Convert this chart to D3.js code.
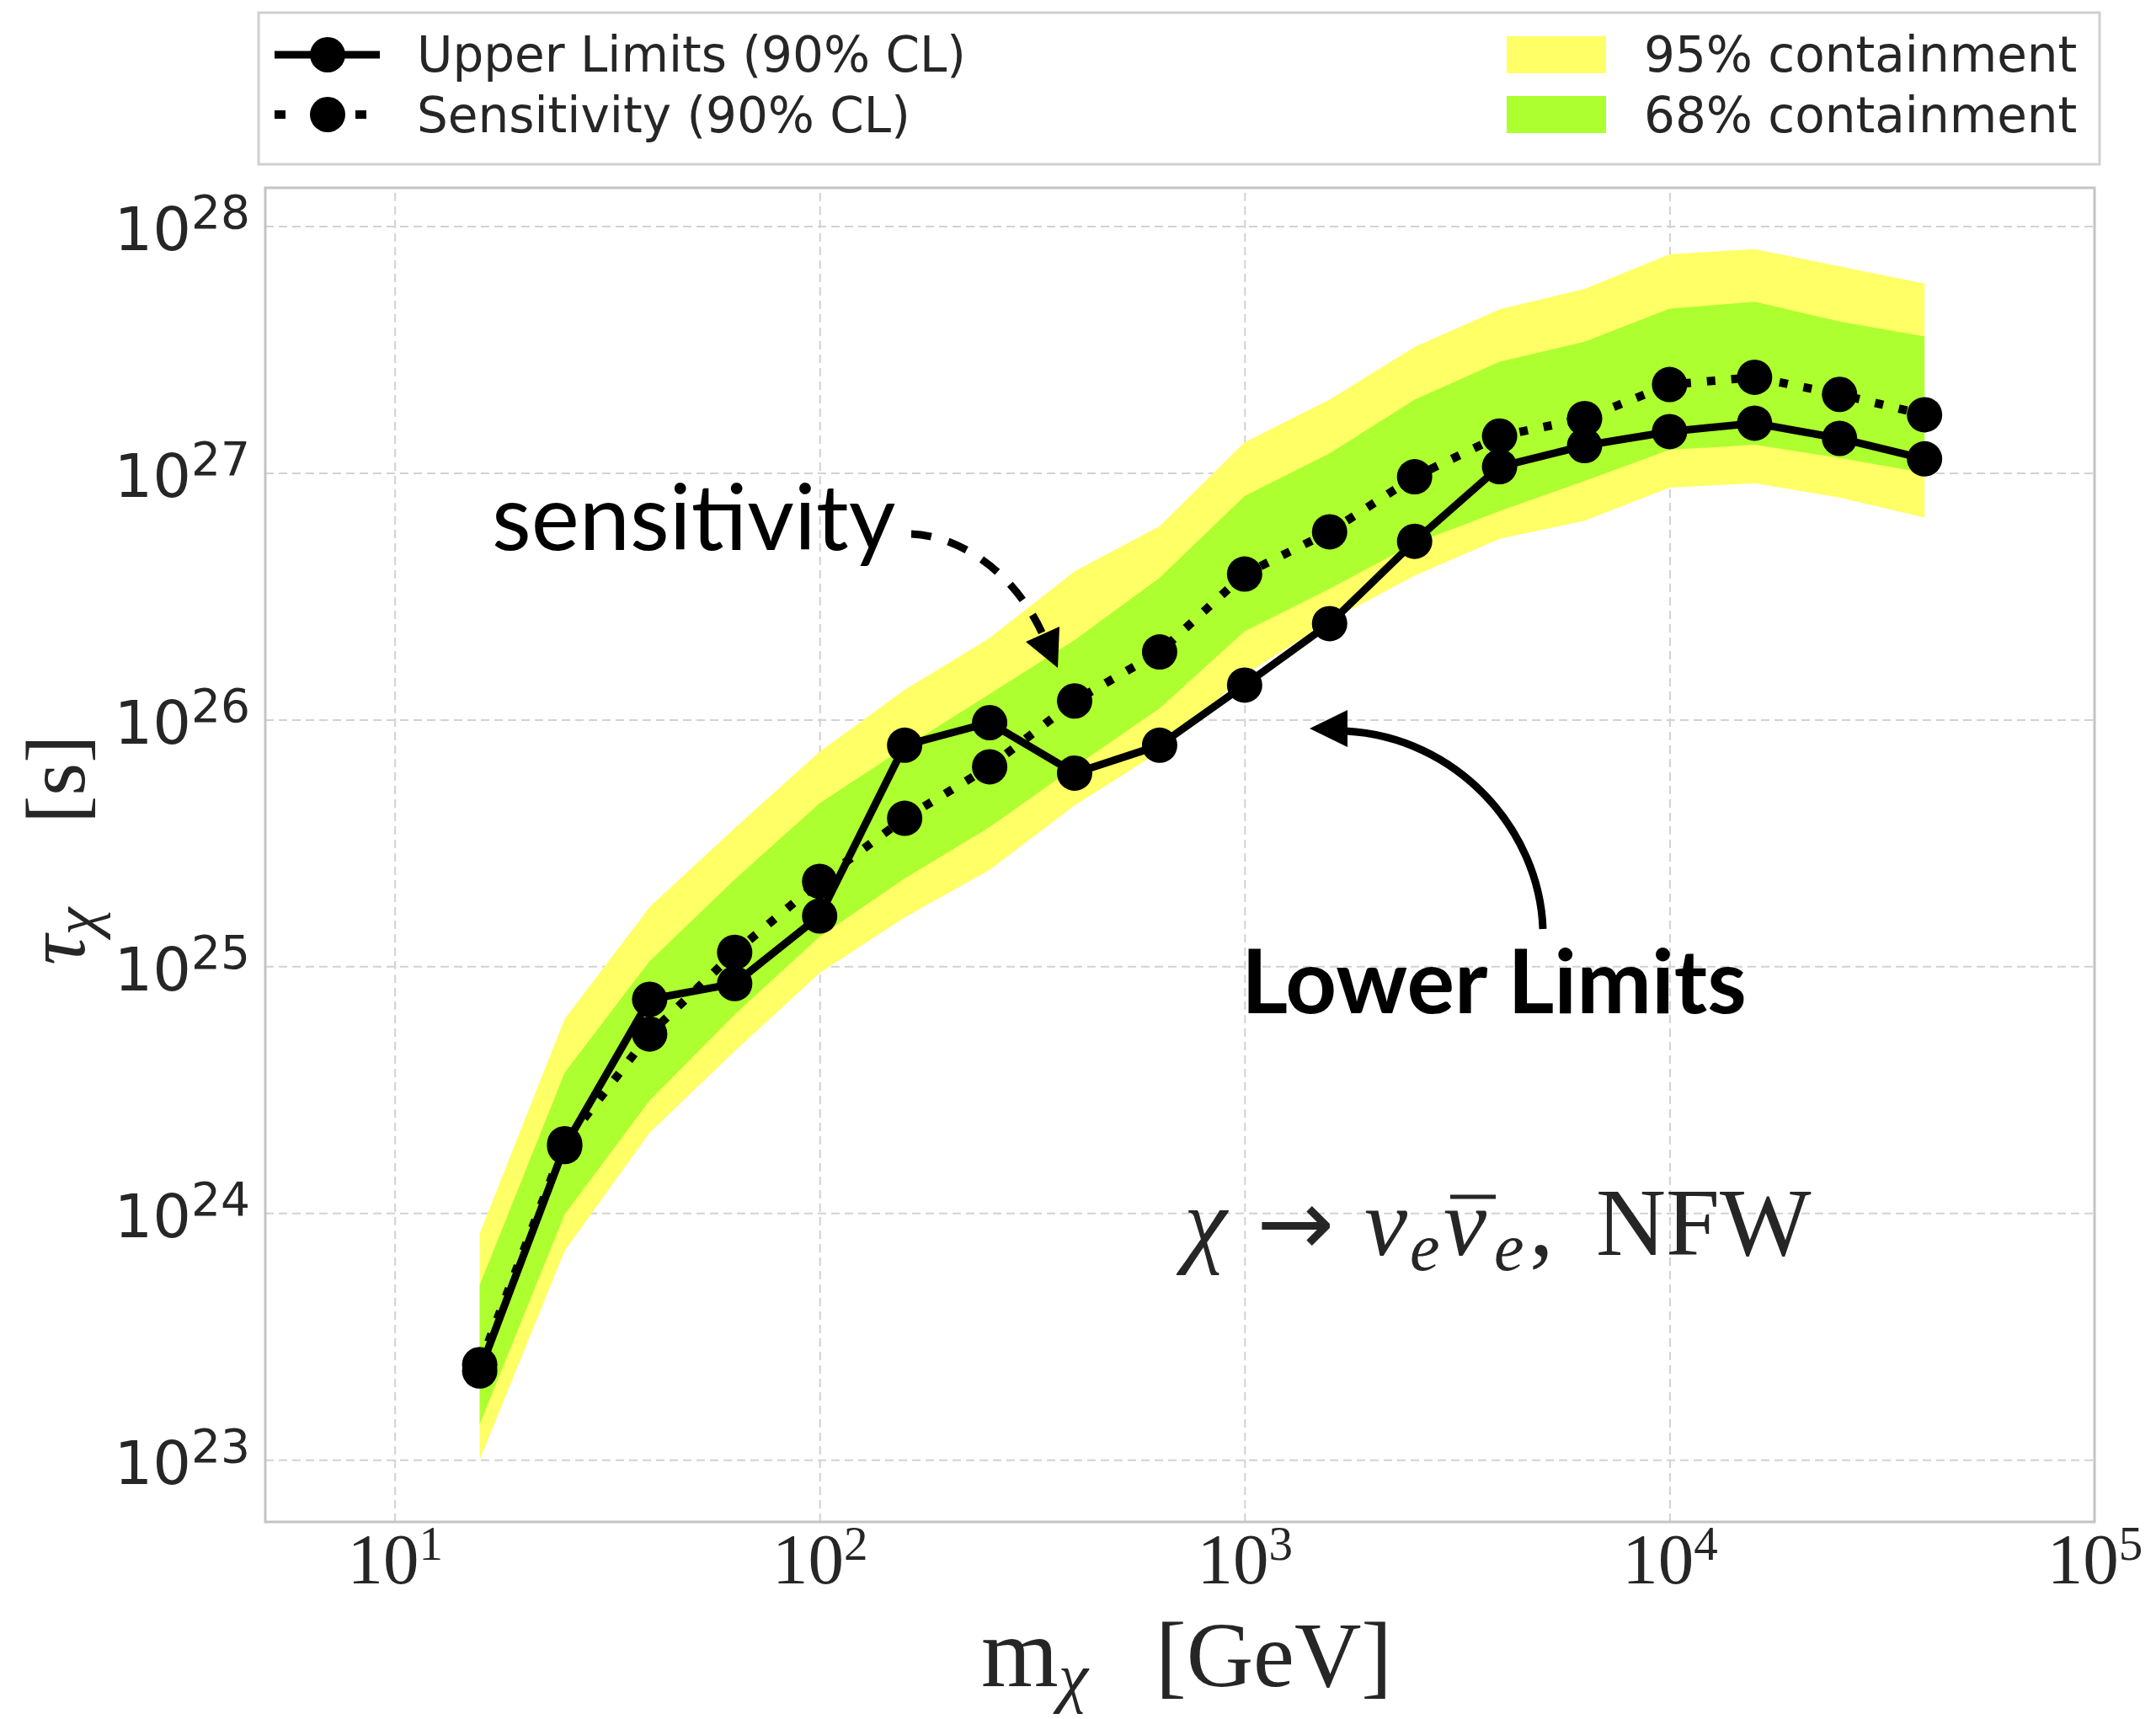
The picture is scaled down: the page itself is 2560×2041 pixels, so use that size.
<!DOCTYPE html>
<html lang="en">
<head>
<meta charset="UTF-8">
<title>Dark matter lifetime limits</title>
<style>
  body { margin: 0; background: #fff; }
  svg { display: block; background: #fff; }
</style>
</head>
<body>
<svg width="2560" height="2041"></svg>

<script src="https://cdn.jsdelivr.net/npm/d3@7"></script>
<script>
// values: mass in GeV, lifetime in s
var mass = [15.85, 25.12, 39.81, 63.10, 100, 158.5, 251.2, 398.1, 631.0,
            1000, 1585, 2512, 3981, 6310, 10000, 15850, 25120, 39810];
var upperLimit = [2.29e23, 1.86e24, 7.35e24, 8.51e24, 1.60e25, 7.87e25, 9.72e25, 6.07e25, 7.87e25,
                  1.38e26, 2.45e26, 5.28e26, 1.06e27, 1.29e27, 1.47e27, 1.59e27, 1.38e27, 1.14e27];
var sensitivity = [2.43e23, 1.91e24, 5.32e24, 1.14e25, 2.21e25, 3.98e25, 6.44e25, 1.19e26, 1.88e26,
                   3.89e26, 5.77e26, 9.64e26, 1.41e27, 1.66e27, 2.28e27, 2.44e27, 2.08e27, 1.72e27];
var band95Hi = [8.26e23, 6.12e24, 1.74e25, 3.63e25, 7.41e25, 1.32e26, 2.14e26, 3.99e26, 6.08e26,
                1.33e27, 1.98e27, 3.24e27, 4.60e27, 5.57e27, 7.69e27, 8.07e27, 6.87e27, 5.85e27];
var band68Hi = [5.11e23, 3.71e24, 1.05e25, 2.25e25, 4.58e25, 7.71e25, 1.27e26, 2.10e26, 3.76e26,
                8.05e26, 1.20e27, 1.98e27, 2.82e27, 3.40e27, 4.63e27, 4.94e27, 4.11e27, 3.57e27];
var band68Lo = [1.39e23, 9.89e23, 2.86e24, 6.38e24, 1.32e25, 2.27e25, 3.67e25, 6.44e25, 1.11e26,
                2.28e26, 3.39e26, 5.18e26, 7.00e26, 9.27e26, 1.24e27, 1.30e27, 1.15e27, 1.00e27];
var band95Lo = [1.00e23, 7.03e23, 2.12e24, 4.53e24, 9.40e24, 1.58e25, 2.46e25, 4.49e25, 7.41e25,
                1.52e26, 2.51e26, 3.83e26, 5.40e26, 6.40e26, 8.71e26, 9.08e26, 7.94e26, 6.59e26];

var xTicks = [1e1, 1e2, 1e3, 1e4, 1e5];
var yTicks = [1e23, 1e24, 1e25, 1e26, 1e27, 1e28];
var legendLines = ["Upper Limits (90% CL)", "Sensitivity (90% CL)"];
var legendBands = ["95% containment", "68% containment"];

var svg = d3.select("svg");
var box = {left: 315, right: 2487, top: 223, bottom: 1807};
var ink = "#262626";

var x = d3.scaleLog().domain([4.96, 1e5]).range([box.left, box.right]);
var y = d3.scaleLog().domain([5.6e22, 1.43e28]).range([box.bottom, box.top]);

var rows = mass.map(function(m, i) {
  return {m: m, ul: upperLimit[i], se: sensitivity[i],
          hi95: band95Hi[i], lo95: band95Lo[i], hi68: band68Hi[i], lo68: band68Lo[i]};
});

// grid
var grid = svg.append("g");
grid.append("g").attr("transform", "translate(0," + box.bottom + ")")
  .call(d3.axisBottom(x).tickValues(xTicks.slice(0, 4)).tickSize(-(box.bottom - box.top)).tickFormat(""));
grid.append("g").attr("transform", "translate(" + box.left + ",0)")
  .call(d3.axisLeft(y).tickValues(yTicks).tickSize(-(box.right - box.left)).tickFormat(""));
grid.selectAll(".domain").remove();
grid.selectAll("line").attr("stroke", "#d2d2d2").attr("stroke-width", 2).attr("stroke-dasharray", "10,6");

svg.append("clipPath").attr("id", "plotclip").append("rect")
  .attr("x", box.left).attr("y", box.top)
  .attr("width", box.right - box.left).attr("height", box.bottom - box.top);

var plot = svg.append("g").attr("clip-path", "url(#plotclip)");

// containment bands
var area95 = d3.area().x(function(d){ return x(d.m); })
  .y0(function(d){ return y(d.lo95); }).y1(function(d){ return y(d.hi95); });
var area68 = d3.area().x(function(d){ return x(d.m); })
  .y0(function(d){ return y(d.lo68); }).y1(function(d){ return y(d.hi68); });
plot.append("path").datum(rows).attr("d", area95).attr("fill", "#ffff66");
plot.append("path").datum(rows).attr("d", area68).attr("fill", "#adff2f");

// limit curves
var lineUL = d3.line().x(function(d){ return x(d.m); }).y(function(d){ return y(d.ul); });
var lineSE = d3.line().x(function(d){ return x(d.m); }).y(function(d){ return y(d.se); });

plot.append("path").datum(rows).attr("d", lineUL)
  .attr("fill", "none").attr("stroke", "#000").attr("stroke-width", 9).attr("stroke-linejoin", "round");
plot.selectAll(".ul").data(rows).enter().append("circle")
  .attr("cx", function(d){ return x(d.m); }).attr("cy", function(d){ return y(d.ul); })
  .attr("r", 21).attr("fill", "#000");

plot.append("path").datum(rows).attr("d", lineSE)
  .attr("fill", "none").attr("stroke", "#000").attr("stroke-width", 10).attr("stroke-dasharray", "10,19");
plot.selectAll(".se").data(rows).enter().append("circle")
  .attr("cx", function(d){ return x(d.m); }).attr("cy", function(d){ return y(d.se); })
  .attr("r", 21).attr("fill", "#000");

// frame
svg.append("rect").attr("x", box.left).attr("y", box.top)
  .attr("width", box.right - box.left).attr("height", box.bottom - box.top)
  .attr("fill", "none").attr("stroke", "#c4c4c4").attr("stroke-width", 3);

// tick labels
var xAxis = svg.append("g").attr("transform", "translate(0," + box.bottom + ")")
  .call(d3.axisBottom(x).tickValues(xTicks).tickSize(0));
xAxis.select(".domain").remove();
xAxis.selectAll("text").each(function(d) {
  var t = d3.select(this).text(null).attr("y", 73).attr("dy", null)
    .attr("font-family", "Liberation Serif").attr("font-size", 85).attr("fill", ink);
  t.append("tspan").text("10");
  t.append("tspan").attr("font-size", 57).attr("dy", -28).text(Math.round(Math.log10(d)));
});

var yAxis = svg.append("g").attr("transform", "translate(" + box.left + ",0)")
  .call(d3.axisLeft(y).tickValues(yTicks).tickSize(0).tickPadding(18));
yAxis.select(".domain").remove();
yAxis.selectAll("text").each(function(d) {
  var t = d3.select(this).text(null).attr("y", 28).attr("dy", null)
    .attr("font-family", "DejaVu Sans").attr("font-size", 72).attr("fill", ink);
  t.append("tspan").text("10");
  t.append("tspan").attr("font-size", 55).attr("dy", -26).text(Math.round(Math.log10(d)));
});

// axis titles
var xt = svg.append("text").attr("x", 1165).attr("y", 2002)
  .attr("font-family", "Liberation Serif").attr("font-size", 110).attr("fill", ink);
xt.append("tspan").attr("font-size", 118).text("m");
xt.append("tspan").attr("font-size", 80).attr("font-style", "italic").attr("dy", 16).text("χ");
xt.append("tspan").attr("x", 1372).attr("dy", -16).text("[GeV]");

var yt = svg.append("text").attr("transform", "translate(100,1146) rotate(-90)")
  .attr("font-family", "Liberation Serif").attr("font-size", 100).attr("fill", ink);
yt.append("tspan").attr("font-style", "italic").text("τ");
yt.append("tspan").attr("font-size", 74).attr("font-style", "italic").attr("dy", 15).text("χ");
yt.append("tspan").attr("x", 168).attr("dy", -15).text("[s]");

// channel label
var chan = svg.append("g").attr("font-family", "Liberation Serif").attr("fill", ink);
chan.append("text").attr("x", 1406).attr("y", 1490).attr("font-size", 115).attr("font-style", "italic").text("χ");
chan.append("text").attr("x", 1492).attr("y", 1490).attr("font-family", "DejaVu Sans")
  .attr("font-size", 110).text("→");
chan.append("text").attr("x", 1620).attr("y", 1490).attr("font-size", 115).attr("font-style", "italic").text("ν");
chan.append("text").attr("x", 1674).attr("y", 1508).attr("font-size", 80).attr("font-style", "italic").text("e");
chan.append("text").attr("x", 1714).attr("y", 1490).attr("font-size", 115).attr("font-style", "italic").text("ν");
chan.append("line").attr("x1", 1722).attr("x2", 1776).attr("y1", 1421).attr("y2", 1421)
  .attr("stroke", ink).attr("stroke-width", 5);
chan.append("text").attr("x", 1774).attr("y", 1508).attr("font-size", 80).attr("font-style", "italic").text("e");
chan.append("text").attr("x", 1816).attr("y", 1490).attr("font-size", 115).text(",");
chan.append("text").attr("x", 1895).attr("y", 1490).attr("font-size", 115).text("NFW");

// annotations
svg.append("text").attr("x", 584).attr("y", 653)
  .attr("font-family", "Lato").attr("font-size", 108).attr("fill", "#000").text("sensitivity");
svg.append("path").attr("d", "M1082,634 C1140,636 1205,680 1238,753")
  .attr("fill", "none").attr("stroke", "#000").attr("stroke-width", 9).attr("stroke-dasharray", "24,21");
svg.append("polygon").attr("points", "1256,793 1218,762 1258,744").attr("fill", "#000");

svg.append("text").attr("x", 1474).attr("y", 1203)
  .attr("font-family", "Lato").attr("font-weight", "bold").attr("font-size", 106).attr("fill", "#000").text("Lower Limits");
svg.append("path").attr("d", "M1832,1103 C1828,985 1730,875 1598,868")
  .attr("fill", "none").attr("stroke", "#000").attr("stroke-width", 9);
svg.append("polygon").attr("points", "1555,865 1600,843 1600,887").attr("fill", "#000");

// legend
var lg = svg.append("g");
lg.append("rect").attr("x", 307).attr("y", 15).attr("width", 2186).attr("height", 180)
  .attr("fill", "#fff").attr("stroke", "#d0d0d0").attr("stroke-width", 3);
var rowY = [65, 136], rowBase = [85, 157];
lg.append("line").attr("x1", 326).attr("x2", 451).attr("y1", rowY[0]).attr("y2", rowY[0])
  .attr("stroke", "#000").attr("stroke-width", 9);
lg.append("line").attr("x1", 326).attr("x2", 451).attr("y1", rowY[1]).attr("y2", rowY[1])
  .attr("stroke", "#000").attr("stroke-width", 10).attr("stroke-dasharray", "13,83");
rowY.forEach(function(cy) {
  lg.append("circle").attr("cx", 389).attr("cy", cy).attr("r", 21).attr("fill", "#000");
});
legendLines.forEach(function(s, i) {
  lg.append("text").attr("x", 495).attr("y", rowBase[i])
    .attr("font-family", "DejaVu Sans").attr("font-size", 58).attr("fill", ink).text(s);
});
var patchColor = ["#ffff66", "#adff2f"];
legendBands.forEach(function(s, i) {
  lg.append("rect").attr("x", 1789).attr("y", rowY[i] - 22).attr("width", 118).attr("height", 44)
    .attr("fill", patchColor[i]);
  lg.append("text").attr("x", 1952).attr("y", rowBase[i])
    .attr("font-family", "DejaVu Sans").attr("font-size", 58).attr("fill", ink).text(s);
});
</script>
</body>
</html>
